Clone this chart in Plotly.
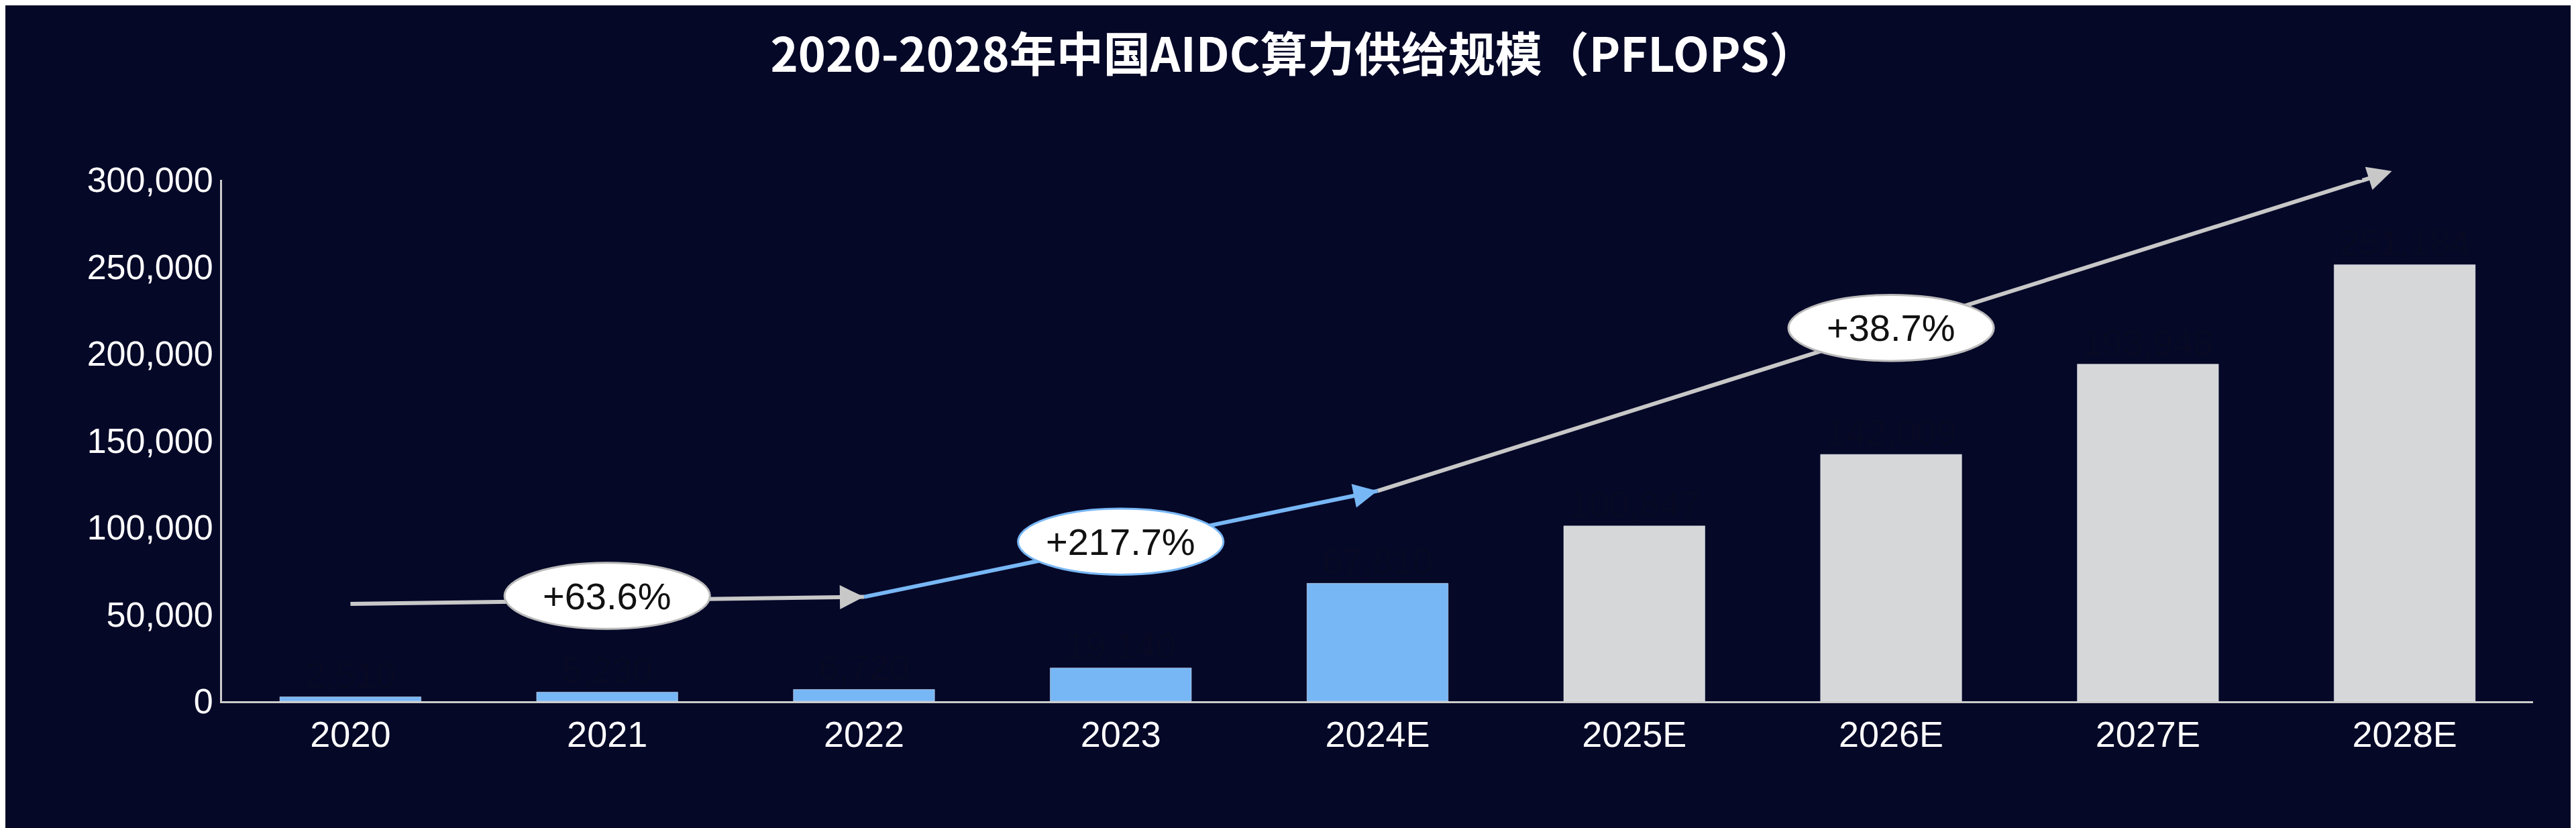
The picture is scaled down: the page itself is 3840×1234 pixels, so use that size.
import plotly.graph_objects as go

years = ["2020", "2021", "2022", "2023", "2024E", "2025E", "2026E", "2027E", "2028E"]
values = [2510, 5230, 6720, 19140, 67810, 100847, 142009, 193948, 251184]
bar_colors = ["#78b7f5"] * 5 + ["#d6d7d9"] * 4
labels = [f"{v:,}" for v in values]

# growth arrows: (x0, y0, x1, y1, color)
arrows = [(0, 56000, 2, 60000, "#c8c8c8"),
          (2, 60000, 4, 121000, "#78b7f5"),
          (4, 121000, 7.95, 305000, "#c8c8c8")]
# growth labels: (x, y, text, border)
growth = [(1, 60600, "+63.6%", "#bbbbbb"),
          (3, 91800, "+217.7%", "#78b7f5"),
          (6, 214800, "+38.7%", "#bbbbbb")]

fig = go.Figure(go.Bar(
    x=years, y=values, marker_color=bar_colors, width=0.55,
    text=labels, textposition="outside", cliponaxis=False,
    textfont=dict(color="#080a24", size=54, family="Liberation Sans"),
))

for x0, y0, x1, y1, c in arrows:
    fig.add_trace(go.Scatter(x=[x0, x1], y=[y0, y1], mode="lines", xaxis="x2",
                             line=dict(color=c, width=6), hoverinfo="skip", cliponaxis=False))
    f = 0.03
    fig.add_annotation(x=x1, y=y1, ax=x1 - (x1 - x0) * f, ay=y1 - (y1 - y0) * f,
                       xref="x2", yref="y", axref="x2", ayref="y",
                       text="", showarrow=True, arrowhead=2, arrowsize=1.2, arrowwidth=6,
                       arrowcolor=c)

for x, y, t, bc in growth:
    fig.add_shape(type="circle", xref="x2", yref="y", x0=x - 0.4, x1=x + 0.4, layer="above",
                  y0=y - 19000, y1=y + 19000, fillcolor="white", line=dict(color=bc, width=3))
    fig.add_annotation(x=x, y=y, xref="x2", yref="y", text=t, showarrow=False,
                       font=dict(size=56, color="#111111", family="Liberation Sans"))

fig.update_layout(
    width=3840, height=1234,
    paper_bgcolor="#060828", plot_bgcolor="#060828",
    margin=dict(l=323, r=72, t=260, b=197),
    title=dict(text="<b>2020-2028年中国AIDC算力供给规模（PFLOPS）</b>", x=0.5, xanchor="center", y=0.94,
               yanchor="middle", font=dict(size=70, color="white", family="Noto Sans CJK SC")),
    showlegend=False,
    font=dict(family="Liberation Sans", color="white", size=54),
    xaxis2=dict(overlaying="x", range=[-0.5, 8.5], visible=False),
)
fig.update_xaxes(selector=dict(type="category"))
fig.update_layout(xaxis=dict(type="category", range=[-0.5, 8.5], showline=True, linecolor="#cccccc",
                             linewidth=3, showgrid=False, ticks="", tickfont=dict(size=54, color="white")))
fig.update_yaxes(range=[0, 300000], tickvals=[0, 50000, 100000, 150000, 200000, 250000, 300000],
                 tickformat=",", showline=True, linecolor="#cccccc", linewidth=3, showgrid=False,
                 zeroline=False, ticks="", tickfont=dict(size=52, color="white"))

fig.write_html("out.html")
